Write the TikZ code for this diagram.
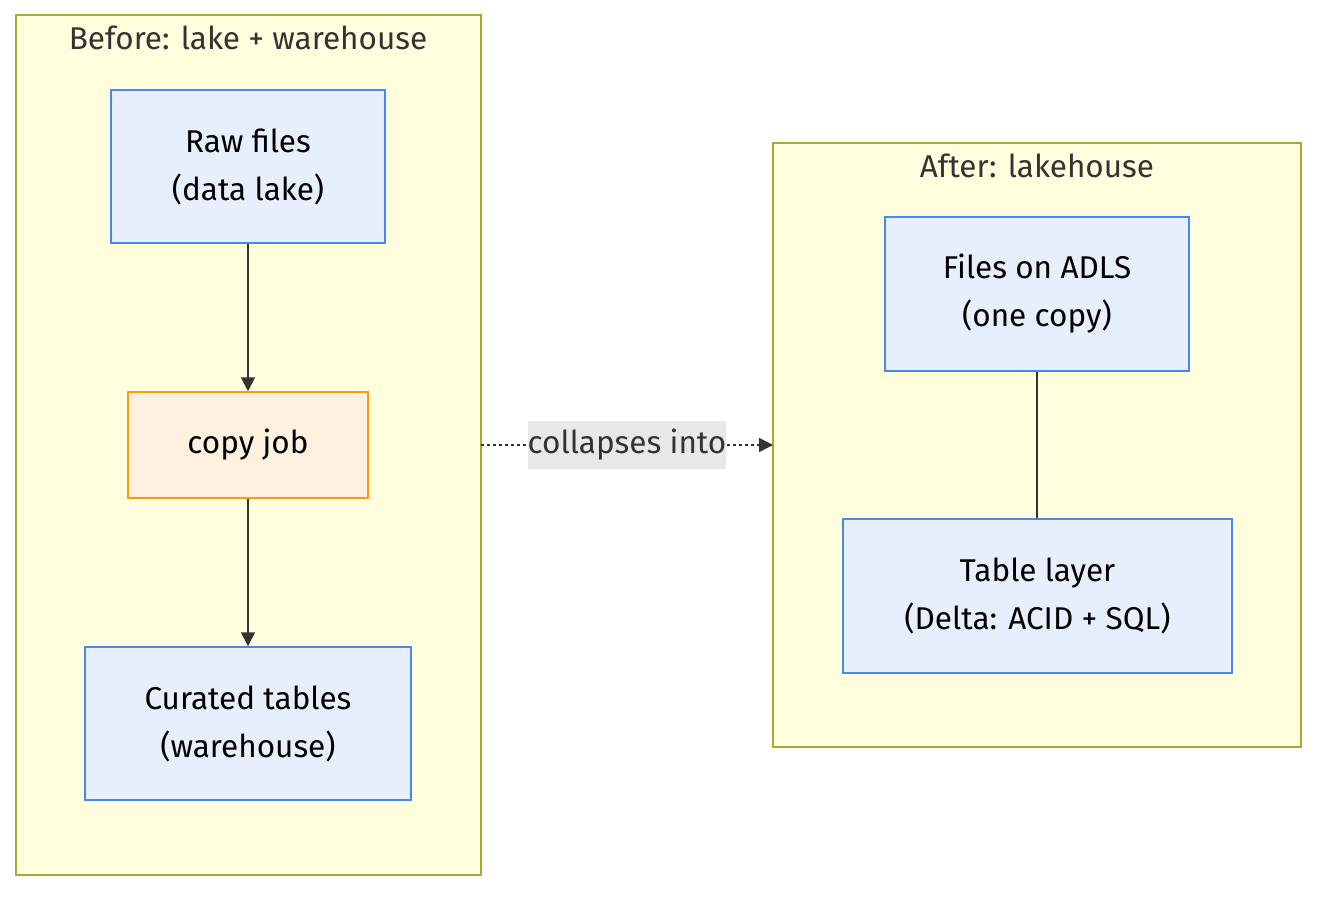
\documentclass[tikz,border=0pt]{standalone}
\usepackage{fontspec}
\setmainfont{Fira Sans}
\usetikzlibrary{arrows.meta}
\definecolor{clfill}{HTML}{FFFFDE}
\definecolor{clline}{HTML}{AAAA33}
\definecolor{ndfill}{HTML}{E8EFFC}
\definecolor{ndline}{HTML}{4A88EE}
\definecolor{jbfill}{HTML}{FFF1E0}
\definecolor{jbline}{HTML}{FF9B0F}
\definecolor{edge}{HTML}{333333}
\definecolor{lblbg}{HTML}{E8E8E8}
\begin{document}
\begin{tikzpicture}[x=1pt,y=-1pt,
  cluster/.style={draw=clline,fill=clfill,line width=1.5pt},
  ctitle/.style={font=\fontsize{31.5}{36}\selectfont,text=edge},
  box/.style={draw=ndline,fill=ndfill,line width=1.5pt,align=center,
    font=\fontsize{31.5}{48}\selectfont,text=black,inner sep=0pt},
  jobbox/.style={box,draw=jbline,fill=jbfill},
  conn/.style={draw=edge,line width=1.8pt,-{Triangle[length=14pt,width=14pt]}},
  plain/.style={draw=edge,line width=1.8pt}]
\useasboundingbox (0,0) rectangle (1334,902);
\path[cluster] (16,15) rectangle (481,875);
\path[cluster] (773,143) rectangle (1301,747);
\node[ctitle] (t1) at (248,38) {Before: lake + warehouse};
\node[ctitle] (t2) at (1037,166) {After: lakehouse};
\node[box,minimum width=274pt,minimum height=153pt] (raw) at (248,166.5) {Raw files\\(data lake)};
\node[jobbox,minimum width=240pt,minimum height=106pt] (job) at (248,445) {copy job};
\node[box,minimum width=326pt,minimum height=153pt] (cur) at (248,723.5) {Curated tables\\(warehouse)};
\node[box,minimum width=304pt,minimum height=154pt] (adls) at (1037,294) {Files on ADLS\\(one copy)};
\node[box,minimum width=389pt,minimum height=154pt] (tbl) at (1037.5,596) {Table layer\\(Delta: ACID + SQL)};
\coordinate (lc) at (481,445);
\coordinate (rc) at (773,445);
\draw[conn] (raw) -- (job);
\draw[conn] (job) -- (cur);
\draw[plain] (adls.south) -- (adls.south |- tbl.north);
\draw[conn,dash pattern=on 3pt off 3pt,line width=1.6pt] (lc) -- (rc);
\node[fill=lblbg,font=\fontsize{31.5}{36}\selectfont,text=edge,minimum width=193pt,minimum height=48pt,inner sep=0pt] (lbl) at (627,445) {collapses into};
\end{tikzpicture}
\end{document}
